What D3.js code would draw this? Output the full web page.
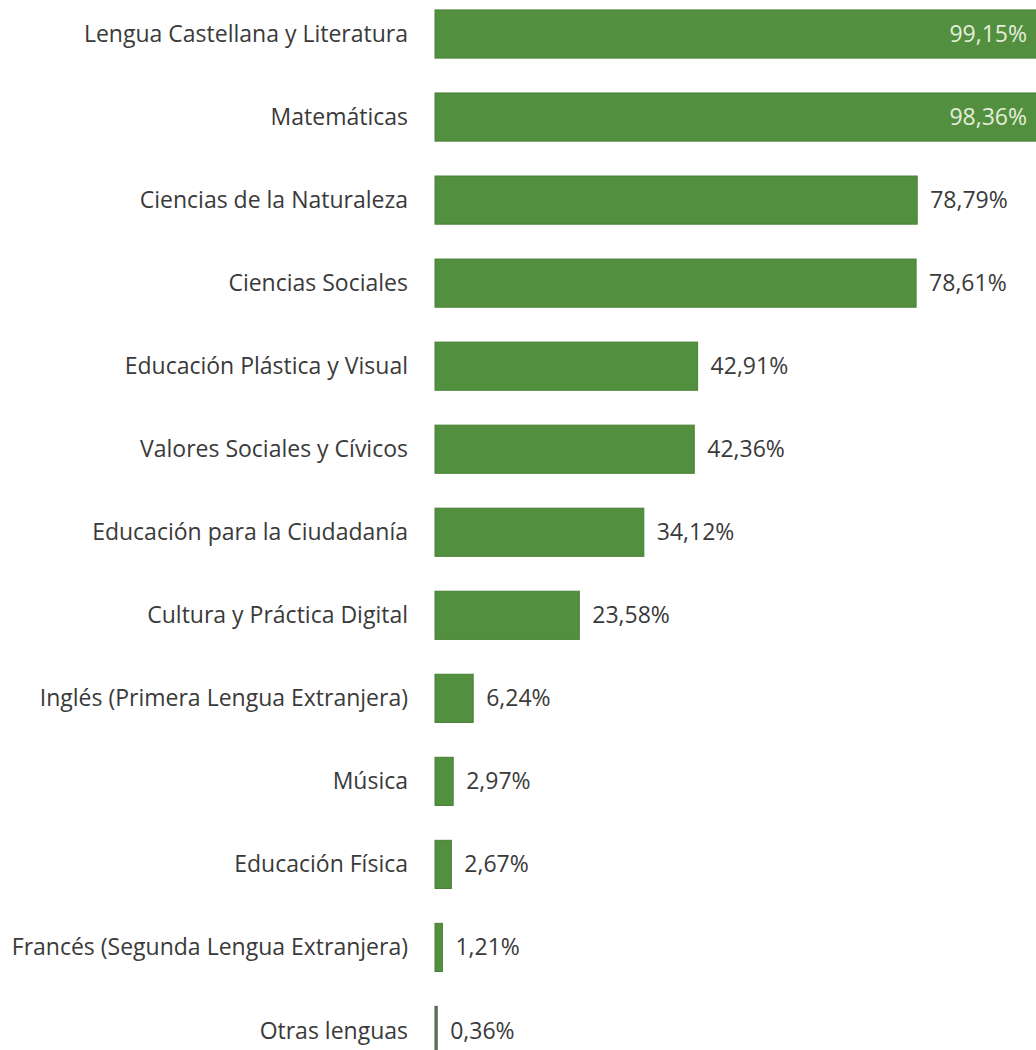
<!doctype html>
<html>
  <head>
    <meta charset="utf-8" />
    <title>Asignaturas</title>
    <style>
      body { margin: 0; background: #fff; }
      svg { display: block; }
      text {
        font-family: "Open Sans", sans-serif;
        fill: #3a3a3a;
      }
    </style>
  </head>
  <body>
    <svg id="chart"></svg>
    <script src="https://d3js.org/d3.v7.min.js"></script>
    <script>
      const subjects = [
        "Lengua Castellana y Literatura",
        "Matemáticas",
        "Ciencias de la Naturaleza",
        "Ciencias Sociales",
        "Educación Plástica y Visual",
        "Valores Sociales y Cívicos",
        "Educación para la Ciudadanía",
        "Cultura y Práctica Digital",
        "Inglés (Primera Lengua Extranjera)",
        "Música",
        "Educación Física",
        "Francés (Segunda Lengua Extranjera)",
        "Otras lenguas",
      ];
      const values = [99.15, 98.36, 78.79, 78.61, 42.91, 42.36, 34.12, 23.58, 6.24, 2.97, 2.67, 1.21, 0.36];
      const valueLabels = ["99,15%", "98,36%", "78,79%", "78,61%", "42,91%", "42,36%", "34,12%", "23,58%", "6,24%", "2,97%", "2,67%", "1,21%", "0,36%"];

      const width = 1036;
      const height = 1050;

      const svg = d3.select("#chart").attr("width", width).attr("height", height);

      // x is stretched so the two top bars run off the right edge, like the scan
      const x = d3.scaleLinear().domain([0, 100]).range([435, 1047]);
      const y = d3.scaleBand().domain(subjects).range([-7.5, 1072]).paddingInner(0.42).paddingOuter(0.21);

      const rows = subjects.map((s, i) => ({ name: s, value: values[i], label: valueLabels[i] }));

      svg.append("g")
        .selectAll("rect")
        .data(rows)
        .join("rect")
        .attr("x", x(0))
        .attr("y", (d) => y(d.name))
        .attr("width", (d) => Math.max(1.5, x(d.value) - x(0)))
        .attr("height", y.bandwidth())
        .attr("fill", "#52903f")
        .attr("stroke", (d) => (d.value < 1 ? "#555" : "#477f36"))
        .attr("stroke-width", 1);

      // category labels
      svg.append("g")
        .selectAll("text")
        .data(rows)
        .join("text")
        .attr("x", 408)
        .attr("y", (d) => y(d.name) + y.bandwidth() / 2)
        .attr("dy", "0.35em")
        .attr("text-anchor", "end")
        .style("font-size", "23px")
        .text((d) => d.name);

      // value labels, inside for bars that hit the edge
      svg.append("g")
        .selectAll("text")
        .data(rows)
        .join("text")
        .attr("x", (d) => (x(d.value) > width ? width - 9 : x(d.value) + 13))
        .attr("y", (d) => y(d.name) + y.bandwidth() / 2)
        .attr("dy", "0.35em")
        .attr("text-anchor", (d) => (x(d.value) > width ? "end" : "start"))
        .style("font-size", "23px")
        .style("fill", (d) => (x(d.value) > width ? "#e6eddc" : "#3a3a3a"))
        .text((d) => d.label);
    </script>
  </body>
</html>
